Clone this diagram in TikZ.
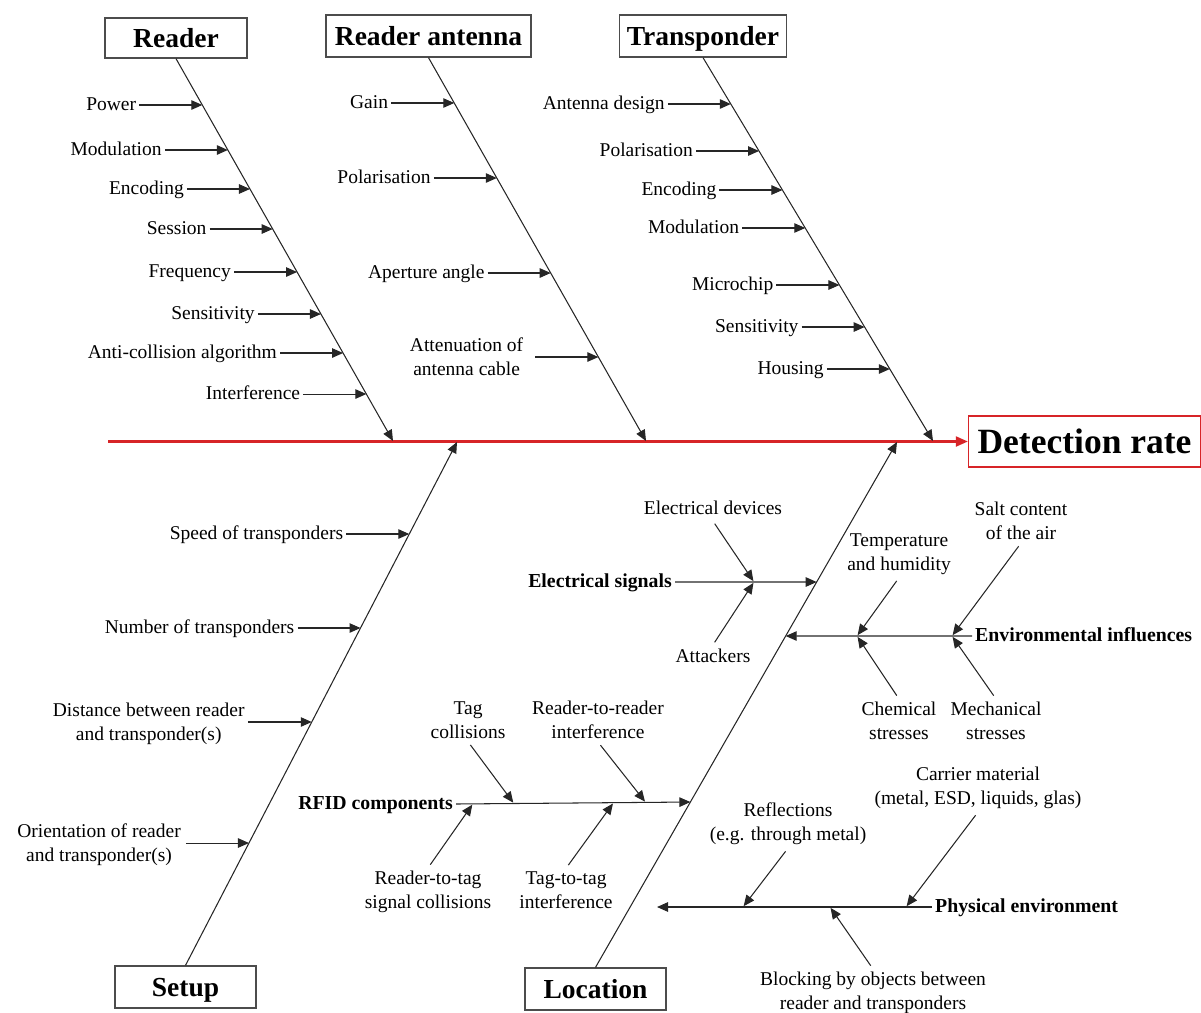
\documentclass[tikz,border=0pt]{standalone}
\usepackage{fontspec}
\setmainfont{Liberation Serif}
\usetikzlibrary{arrows.meta,calc}
\definecolor{spinered}{RGB}{215,36,40}
\begin{document}
\begin{tikzpicture}[x=1pt,y=-1pt,
  lbl/.style={font=\fontsize{19.5}{24}\selectfont, inner sep=3pt, text height=14pt, text depth=4pt},
  mlbl/.style={font=\fontsize{19.5}{24}\selectfont, inner sep=3pt, align=center},
  blbl/.style={lbl, font=\fontsize{19.8}{24}\selectfont\bfseries},
  catbox/.style={draw=black!70, line width=1.3pt, fill=white, inner sep=0pt,
    font=\fontsize{27.5}{30}\selectfont\bfseries, text height=18.5pt, text depth=0pt},
  bone/.style={draw=black!85, line width=1.05pt, -{Triangle[length=11pt,width=9.5pt]}},
  arr/.style={bone},
]
\useasboundingbox (0,0) rectangle (1201,1012);

% category boxes
\node[catbox, minimum width=142pt, minimum height=40pt] (rdr) at (176,38) {Reader};
\node[catbox, minimum width=205pt, minimum height=42pt] (ant) at (428.5,36) {Reader antenna};
\node[catbox, minimum width=167pt, minimum height=42pt] (trp) at (703,36) {Transponder};
\node[catbox, minimum width=141pt, minimum height=42pt] (set) at (185.5,987) {Setup};
\node[catbox, minimum width=141pt, minimum height=42pt] (loc) at (595.5,989) {Location};
\node[draw=spinered, line width=1.3pt, minimum width=232pt, minimum height=51pt, inner sep=0pt,
  font=\fontsize{35.5}{40}\selectfont\bfseries, text height=23.5pt, text depth=0pt] (det) at (1084.5,441.5) {Detection rate};

% spine
\coordinate (tail) at (108,441.5);
\draw[draw=spinered, line width=2.1pt, -{Triangle[length=12pt,width=10pt,fill=spinered]}] (tail) -- (det.west);

% main bones
\coordinate (rEnd) at (393,441);
\coordinate (aEnd) at (646,441);
\coordinate (tEnd) at (933,441);
\coordinate (sEnd) at (457,442);
\coordinate (lEnd) at (897,442);
\draw[bone] (rdr.south) -- (rEnd);
\draw[bone] (ant.south) -- (aEnd);
\draw[bone] (trp.south) -- (tEnd);
\draw[bone] (set.north) -- (sEnd);
\draw[bone] (loc.north) -- (lEnd);

% Reader causes
\foreach \txt/\y [count=\i] in {Power/105, Modulation/150, Encoding/189, Session/229,
    Frequency/272, Sensitivity/314, Anti-collision algorithm/353, Interference/394} {
  \coordinate (rp\i) at (intersection of rdr.south--rEnd and 0,\y--10,\y);
  \path (rp\i) ++(-63,0) node[lbl, anchor=east] (rl\i) {\txt};
  \draw[arr] (rl\i.east) -- (rp\i);
}

% Reader antenna causes
\foreach \txt/\y [count=\i] in {Gain/103, Polarisation/178, Aperture angle/273} {
  \coordinate (ap\i) at (intersection of ant.south--aEnd and 0,\y--10,\y);
  \path (ap\i) ++(-63,0) node[lbl, anchor=east] (al\i) {\txt};
  \draw[arr] (al\i.east) -- (ap\i);
}
\coordinate (ap4) at (intersection of ant.south--aEnd and 0,357--10,357);
\path (ap4) ++(-72,0) node[mlbl, anchor=east] (al4) {Attenuation of\\antenna cable};
\draw[arr, shorten <=9pt] (al4.east) -- (ap4);

% Transponder causes
\foreach \txt/\y [count=\i] in {Antenna design/104, Polarisation/151, Encoding/190, Modulation/228,
    Microchip/285, Sensitivity/327, Housing/369} {
  \coordinate (tp\i) at (intersection of trp.south--tEnd and 0,\y--10,\y);
  \path (tp\i) ++(-63,0) node[lbl, anchor=east] (tl\i) {\txt};
  \draw[arr] (tl\i.east) -- (tp\i);
}

% Setup causes
\foreach \txt/\y [count=\i] in {Speed of transponders/534, Number of transponders/628} {
  \coordinate (sp\i) at (intersection of set.north--sEnd and 0,\y--10,\y);
  \path (sp\i) ++(-63,0) node[lbl, anchor=east] (sl\i) {\txt};
  \draw[arr] (sl\i.east) -- (sp\i);
}
\coordinate (sp3) at (intersection of set.north--sEnd and 0,722--10,722);
\path (sp3) ++(-64,2) node[mlbl, anchor=east] (sl3) {Distance between reader\\and transponder(s)};
\draw[arr] (sl3.east |- sp3) -- (sp3);
\coordinate (sp4) at (intersection of set.north--sEnd and 0,843--10,843);
\path (sp4) ++(-65,2) node[mlbl, anchor=east] (sl4) {Orientation of reader\\and transponder(s)};
\draw[arr, shorten <=2pt] (sl4.east |- sp4) -- (sp4);

% Location: electrical signals
\node[blbl, anchor=east] (es) at (675,582) {Electrical signals};
\coordinate (esb) at (intersection of loc.north--lEnd and 0,582--10,582);
\draw[bone] (es.east) -- (esb);
\coordinate (esj) at (754,582);
\node[lbl] (edev) at (713,509) {Electrical devices};
\node[lbl] (atk) at (713,657) {Attackers};
\draw[arr, shorten <=3pt, shorten >=1pt] (edev.south) -- (esj);
\draw[arr, shorten <=3pt, shorten >=1pt] (atk.north) -- (esj);

% Location: environmental influences
\node[blbl, anchor=west] (ei) at (972,636) {Environmental influences};
\coordinate (eib) at (intersection of loc.north--lEnd and 0,636--10,636);
\draw[bone] (ei.west) -- (eib);
\coordinate (eij1) at (952,636);
\coordinate (eij2) at (857,636);
\node[mlbl] (salt) at (1021,521) {Salt content\\of the air};
\node[mlbl] (mech) at (996,721) {Mechanical\\stresses};
\node[mlbl] (temp) at (899,554) {Temperature\\and humidity};
\node[mlbl] (chem) at (899,721) {Chemical\\stresses};
\draw[arr, shorten <=4pt, shorten >=1pt] (salt.south) -- (eij1);
\draw[arr, shorten <=4pt, shorten >=1pt] (mech.north) -- (eij1);
\draw[arr, shorten <=4pt, shorten >=1pt] (temp.south) -- (eij2);
\draw[arr, shorten <=4pt, shorten >=1pt] (chem.north) -- (eij2);

% Location: RFID components
\node[blbl, anchor=east] (rc) at (456,804) {RFID components};
\coordinate (rcb) at (intersection of loc.north--lEnd and 0,802--10,802);
\draw[bone] (rc.east) -- (rcb);
\coordinate (rj1) at ($(rc.east)!0.247!(rcb)$);
\coordinate (rj2) at ($(rc.east)!0.809!(rcb)$);
\coordinate (rj3) at ($(rc.east)!0.072!(rcb)$);
\coordinate (rj4) at ($(rc.east)!0.672!(rcb)$);
\node[mlbl] (tagc) at (468,720) {Tag\\collisions};
\node[mlbl] (rrif) at (598,720) {Reader-to-reader\\interference};
\node[mlbl] (rtsc) at (428,892) {Reader-to-tag\\signal collisions};
\node[mlbl] (ttif) at (566,890) {Tag-to-tag\\interference};
\draw[arr, shorten <=4pt, shorten >=1pt] (tagc.south) -- (rj1);
\draw[arr, shorten <=4pt, shorten >=1pt] (rrif.south) -- (rj2);
\draw[arr, shorten <=4pt, shorten >=1pt] (rtsc.north) -- (rj3);
\draw[arr, shorten <=4pt, shorten >=1pt] (ttif.north) -- (rj4);

% Location: physical environment
\node[blbl, anchor=west] (pe) at (932,907) {Physical environment};
\coordinate (pend) at (657,907);
\draw[bone] (pe.west) -- (pend);
\coordinate (pj1) at (906,907);
\coordinate (pj2) at (743,907);
\coordinate (pj3) at (830,907);
\node[mlbl] (carr) at (978,788) {Carrier material\\(metal, ESD, liquids, glas)};
\node[mlbl] (refl) at (788,824) {Reflections\\(e.g. through metal)};
\node[mlbl] (blk) at (873,993) {Blocking by objects between\\reader and transponders};
\draw[arr, shorten <=4pt, shorten >=1pt] (carr.south) -- (pj1);
\draw[arr, shorten <=4pt, shorten >=1pt] (refl.south) -- (pj2);
\draw[arr, shorten <=4pt, shorten >=1pt] (blk.north) -- (pj3);
\end{tikzpicture}
\end{document}
